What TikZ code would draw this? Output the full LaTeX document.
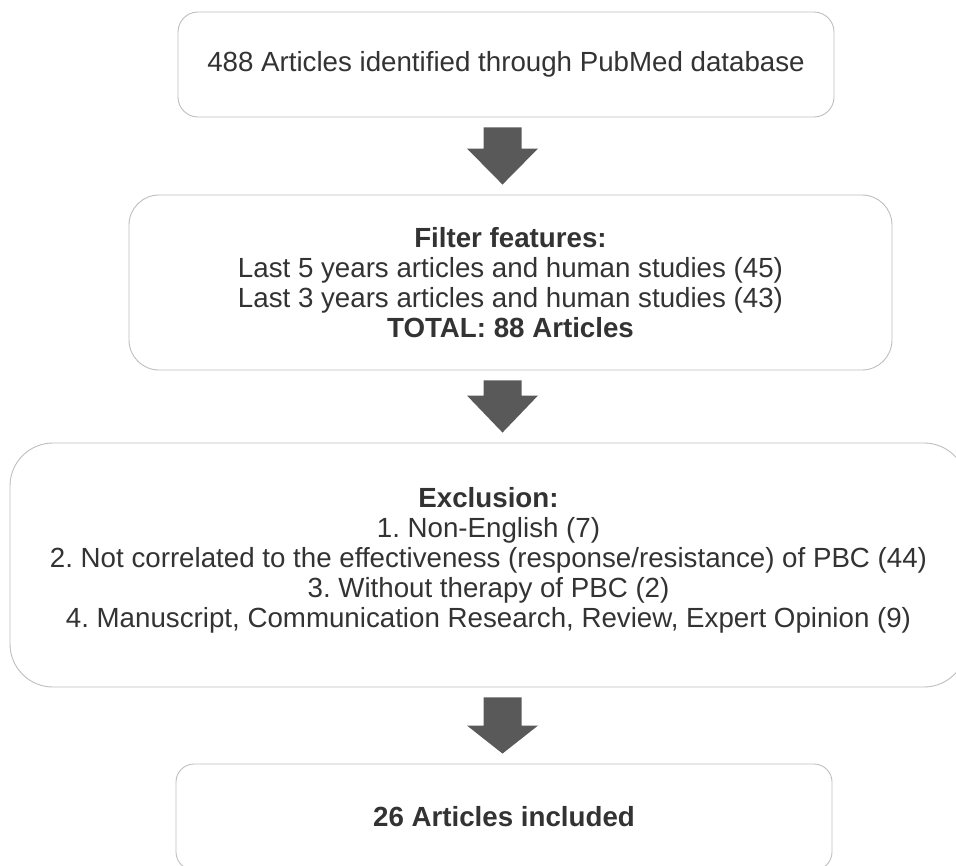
\documentclass[tikz,border=0pt]{standalone}
\usepackage{fontspec}
\setmainfont{Liberation Sans}
\usetikzlibrary{positioning, calc}
\definecolor{textgray}{RGB}{51, 51, 51}
\definecolor{framegray}{RGB}{190, 190, 190}
\definecolor{arrowgray}{RGB}{89, 89, 89}
\frenchspacing

% block arrow from one box to the next
\newcommand{\flowarrow}[3]{%
  \fill[arrowgray] let \p1=([yshift=-10pt]#1.south), \p2=([yshift=10pt]#2.north) in
    (483.5pt,\y1) -- (521.5pt,\y1) -- (521.5pt,\y2+#3) -- (538pt,\y2+#3) -- (502.5pt,\y2)
    -- (467pt,\y2+#3) -- (483.5pt,\y2+#3) -- cycle;}

\begin{document}
\begin{tikzpicture}[x=1pt, y=-1pt,
    box/.style={draw=framegray, line width=0.9pt, fill=white, align=center,
      text=textgray, inner sep=0pt, font=\fontsize{27.7}{30}\selectfont}]
                    \useasboundingbox (0,0) rectangle (956,865);
                    \clip (0,0) rectangle (956,865);

                    \node[box, minimum width=656pt, minimum height=105pt, rounded corners=20pt] (ident) at (506,64.5)
                        {488 Articles identified through PubMed database};
                    \node[box, minimum width=763pt, minimum height=175pt, rounded corners=30pt] (filter) at (510.5,282.5)
                        {\textbf{Filter features:}\\
                         Last 5 years articles and human studies (45)\\
                         Last 3 years articles and human studies (43)\\
                         \textbf{TOTAL: 88 Articles}};
                    \node[box, minimum width=957pt, minimum height=244pt, rounded corners=43pt] (exclude) at (488.5,565)
                        {\textbf{Exclusion:}\\
                         1. Non-English (7)\\
                         2. Not correlated to the effectiveness (response/resistance) of PBC (44)\\
                         3. Without therapy of PBC (2)\\
                         4. Manuscript, Communication Research, Review, Expert Opinion (9)\\[-14pt]};
                    \node[box, minimum width=656pt, minimum height=106pt, rounded corners=18pt] (incl) at (504,817)
                        {\textbf{26 Articles included}};

                    \flowarrow{ident}{filter}{36pt}
                    \flowarrow{filter}{exclude}{37pt}
                    \flowarrow{exclude}{incl}{28pt}
                \end{tikzpicture}
\end{document}
